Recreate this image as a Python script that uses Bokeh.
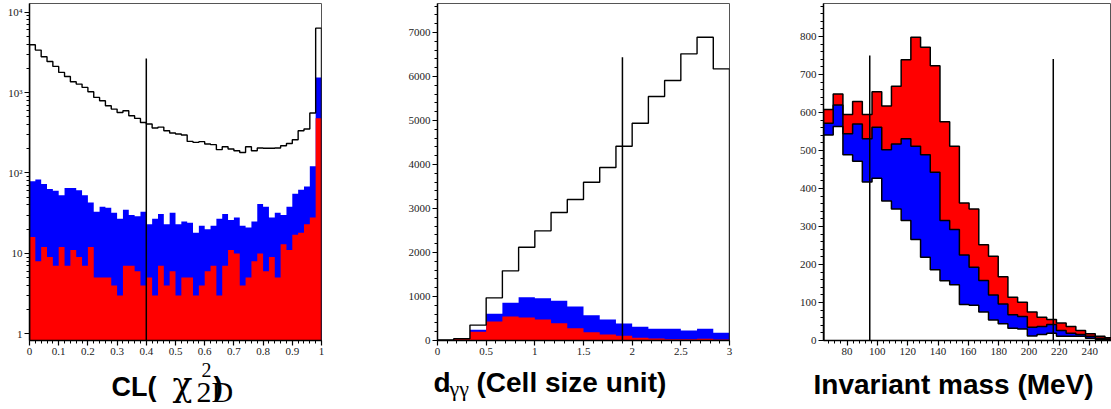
import numpy as np
from bokeh.plotting import figure
from bokeh.layouts import row, column
from bokeh.models import Range1d, FixedTicker, SingleIntervalTicker
from bokeh.core.properties import value
from bokeh.embed import file_html
from bokeh.resources import INLINE

# ---------------- data ----------------
# Panel 1: CL(chi^2_2D), 50 bins on [0, 1] (log y)
CL_LO, CL_HI, CL_NBINS = 0.0, 1.0, 50
cl_all = [3925, 3370, 2785, 2437, 2113, 1780, 1586, 1362, 1274, 1158,
          1023, 870, 791, 686, 623, 566, 594, 515, 477, 425,
          406, 362, 372, 335, 314, 305, 296, 247, 240, 245,
          229, 225, 195, 212, 199, 189, 180, 212, 189, 204,
          203, 203, 204, 218, 233, 259, 335, 352, 556, 6322]
cl_blue = [79, 83, 73, 63, 60, 53, 65, 65, 61, 53,
           43, 33, 38, 37, 32, 27, 35, 30, 29, 33,
           23, 27, 31, 23, 32, 23, 25, 24, 18, 22,
           20, 22, 27, 31, 26, 28, 22, 21, 25, 41,
           38, 28, 32, 30, 38, 55, 62, 68, 121, 1542]
cl_red = [16, 8, 12, 9, 7, 12, 7, 11, 9, 7,
          12, 5, 5, 5, 4, 3, 7, 7, 6, 4,
          5, 3, 7, 4, 6, 3, 5, 5, 3, 4,
          6, 7, 3, 7, 11, 10, 4, 5, 8, 10,
          6, 9, 5, 13, 11, 17, 18, 23, 28, 480]
CL_CUT, CL_CUT_TOP = 0.4, 2660
Y1_LO, Y1_HI = 0.826, 12800

# Panel 2: d_gamma-gamma, 18 bins on [0, 3]
D_LO, D_HI, D_NBINS = 0.0, 3.0, 18
d_all = [15, 40, 350, 970, 1583, 2121, 2492, 2909, 3205,
         3598, 3932, 4417, 4939, 5545, 5909, 6515, 6894, 6174]
d_blue = [8, 38, 242, 606, 856, 985, 962, 902, 773,
          576, 477, 386, 311, 265, 265, 227, 265, 174]
d_red = [8, 38, 197, 432, 545, 523, 477, 394, 280,
         189, 136, 106, 61, 45, 30, 30, 38, 23]
D_CUT, D_CUT_TOP = 1.9, 6440
Y2_HI = 7660

# Panel 3: invariant mass, 30 bins of 6.4 MeV (stacked: white < blue < red)
M_LO, M_BIN, M_NBINS = 64.5, 6.4, 30
m_red = [608, 649, 595, 629, 595, 655, 617, 669, 739, 798,
         772, 723, 576, 511, 362, 346, 252, 222, 168, 114,
         101, 75, 61, 55, 46, 37, 26, 18, 11, 7]
m_blue = [572, 620, 544, 570, 531, 561, 502, 517, 531, 511,
          489, 443, 316, 292, 225, 193, 158, 120, 96, 68,
          63, 35, 37, 42, 26, 19, 16, 11, 6, 4]
m_white = [541, 563, 489, 472, 417, 427, 367, 346, 316, 266,
           219, 186, 157, 147, 95, 93, 75, 54, 44, 32,
           30, 12, 16, 19, 11, 11, 11, 6, 3, 2]
M_CUTS = [95, 216]
M_CUT_TOPS = [750, 741]
X3_HI = 254.4
Y3_HI = 887

# tick labels
cl_ticks = [round(0.1 * i, 1) for i in range(11)]
cl_tick_labels = ["0", "0.1", "0.2", "0.3", "0.4", "0.5", "0.6", "0.7", "0.8", "0.9", "1"]
log_ticks = [1, 10, 100, 1000, 10000]
log_tick_labels = ["1", "10", "10\u00b2", "10\u00b3", "10\u2074"]
d_ticks = [0, 0.5, 1, 1.5, 2, 2.5, 3]
d_tick_labels = ["0", "0.5", "1", "1.5", "2", "2.5", "3"]

RED = "#ff0000"
BLUE = "#0000ff"

MAIN_H = 360   # height of the chart row
TXT_H = 49     # height of the strip holding the axis titles


def step_xy(edges, vals, base):
    edges = np.asarray(edges, dtype=float)
    vals = np.asarray(vals, dtype=float)
    xs = np.concatenate([[edges[0]], np.repeat(edges, 2)[1:-1], [edges[-1]]])
    ys = np.concatenate([[base], np.repeat(vals, 2), [base]])
    return xs, ys


def style(p):
    p.xgrid.visible = False
    p.ygrid.visible = False
    p.outline_line_color = "#555555"
    p.outline_line_width = 1
    p.background_fill_color = "white"
    p.border_fill_color = "white"
    for ax in (p.xaxis[0], p.yaxis[0]):
        ax.axis_line_color = "black"
        ax.axis_line_width = 1.5
        ax.major_tick_line_color = "black"
        ax.major_tick_line_width = 1.2
        ax.minor_tick_line_color = "black"
        ax.minor_tick_line_width = 1
        ax.major_tick_in = 0
        ax.major_tick_out = 5
        ax.minor_tick_in = 0
        ax.minor_tick_out = 3
        ax.major_label_text_font = "Liberation Serif"
        ax.major_label_text_font_size = "11px"
        ax.major_label_text_color = "#222222"
        ax.major_label_standoff = 2


# ---------------- panel 1 ----------------
p1 = figure(width=395, height=MAIN_H, x_range=Range1d(CL_LO, CL_HI),
            y_range=Range1d(Y1_LO, Y1_HI), y_axis_type="log",
            output_backend="svg", toolbar_location=None,
            min_border_left=29, min_border_right=74, min_border_top=3, min_border_bottom=20)
style(p1)
cl_edges = np.linspace(CL_LO, CL_HI, CL_NBINS + 1)
xs, ys = step_xy(cl_edges, cl_blue, Y1_LO)
p1.patch(xs, ys, fill_color=BLUE, line_color=None)
xs, ys = step_xy(cl_edges, cl_red, Y1_LO)
p1.patch(xs, ys, fill_color=RED, line_color=None)
xs, ys = step_xy(cl_edges, cl_all, Y1_LO)
p1.line(xs, ys, line_color="black", line_width=1.4)
p1.segment(x0=[CL_CUT], y0=[Y1_LO], x1=[CL_CUT], y1=[CL_CUT_TOP], line_color="black", line_width=1.5)
p1.xaxis.ticker = FixedTicker(ticks=cl_ticks, minor_ticks=[round(0.02 * i, 2) for i in range(51)])
p1.xaxis.major_label_overrides = {t: l for t, l in zip(cl_ticks, cl_tick_labels)}
p1.yaxis.ticker = FixedTicker(ticks=log_ticks,
                              minor_ticks=[k * 10 ** d for d in range(5) for k in range(2, 10)])
p1.yaxis.major_label_overrides = {t: l for t, l in zip(log_ticks, log_tick_labels)}

# ---------------- panel 2 ----------------
p2 = figure(width=385, height=MAIN_H, x_range=Range1d(D_LO, D_HI),
            y_range=Range1d(0, Y2_HI),
            output_backend="svg", toolbar_location=None,
            min_border_left=42, min_border_right=51, min_border_top=3, min_border_bottom=20)
style(p2)
d_edges = np.linspace(D_LO, D_HI, D_NBINS + 1)
xs, ys = step_xy(d_edges, d_blue, 0)
p2.patch(xs, ys, fill_color=BLUE, line_color=None)
xs, ys = step_xy(d_edges, d_red, 0)
p2.patch(xs, ys, fill_color=RED, line_color=None)
xs, ys = step_xy(d_edges, d_all, 0)
p2.line(xs, ys, line_color="black", line_width=1.4)
p2.segment(x0=[D_CUT], y0=[0], x1=[D_CUT], y1=[D_CUT_TOP], line_color="black", line_width=1.5)
p2.xaxis.ticker = FixedTicker(ticks=d_ticks, minor_ticks=[round(0.1 * i, 1) for i in range(31)])
p2.xaxis.major_label_overrides = {float(t): l for t, l in zip(d_ticks, d_tick_labels)}
p2.yaxis.ticker = SingleIntervalTicker(interval=1000, num_minor_ticks=5)

# ---------------- panel 3 ----------------
p3 = figure(width=331, height=MAIN_H, x_range=Range1d(M_LO, X3_HI),
            y_range=Range1d(0, Y3_HI),
            output_backend="svg", toolbar_location=None,
            min_border_left=43, min_border_right=0, min_border_top=3, min_border_bottom=20)
style(p3)
m_edges = M_LO + M_BIN * np.arange(M_NBINS + 1)
for vals, col in ((m_red, RED), (m_blue, BLUE), (m_white, "white")):
    xs, ys = step_xy(m_edges, vals, 0)
    p3.patch(xs, ys, fill_color=col, line_color=None)
for vals in (m_red, m_blue, m_white):
    xs, ys = step_xy(m_edges, vals, 0)
    p3.line(xs, ys, line_color="black", line_width=1.5)
p3.segment(x0=M_CUTS, y0=[0, 0], x1=M_CUTS, y1=M_CUT_TOPS, line_color="black", line_width=1.5)
p3.xaxis.ticker = SingleIntervalTicker(interval=20, num_minor_ticks=5)
p3.yaxis.ticker = SingleIntervalTicker(interval=100, num_minor_ticks=5)

# ---------------- axis titles strip (pixel coordinates, y = vertical centre) ----------------
pt = figure(width=1111, height=TXT_H, x_range=Range1d(0, 1111), y_range=Range1d(0, TXT_H),
            output_backend="svg", toolbar_location=None,
            x_axis_location=None, y_axis_location=None, min_border=0)
pt.xgrid.visible = False
pt.ygrid.visible = False
pt.outline_line_color = None
pt.background_fill_color = "white"
pt.border_fill_color = "white"


def title_text(x, y, text, size, font="Liberation Sans", fstyle="bold"):
    pt.text(x=[x], y=[y], text=[text], text_font=value(font), text_font_size=f"{size}px",
            text_font_style=fstyle, text_baseline="middle", text_align="left",
            text_color="black")


# panel 1: CL( chi^2_2D )
title_text(111, 23, "CL(", 27)
title_text(172, 25, "\u03c7", 33, font="DejaVu Serif", fstyle="normal")
title_text(201, 40, "2", 20, font="Liberation Serif", fstyle="normal")
title_text(196, 18, "2D", 30, font="Liberation Serif", fstyle="normal")
title_text(213, 23, ")", 28)
# panel 2: d_gammagamma (Cell size unit)
title_text(433, 27, "d", 28)
title_text(449, 21, "\u03b3\u03b3", 22, font="Liberation Serif", fstyle="normal")
title_text(476, 27, "(Cell size unit)", 28)
# panel 3
title_text(813, 25, "Invariant mass (MeV)", 28)

layout = column(row(p1, p2, p3), pt)
open("out.html", "w").write(file_html(layout, INLINE))
